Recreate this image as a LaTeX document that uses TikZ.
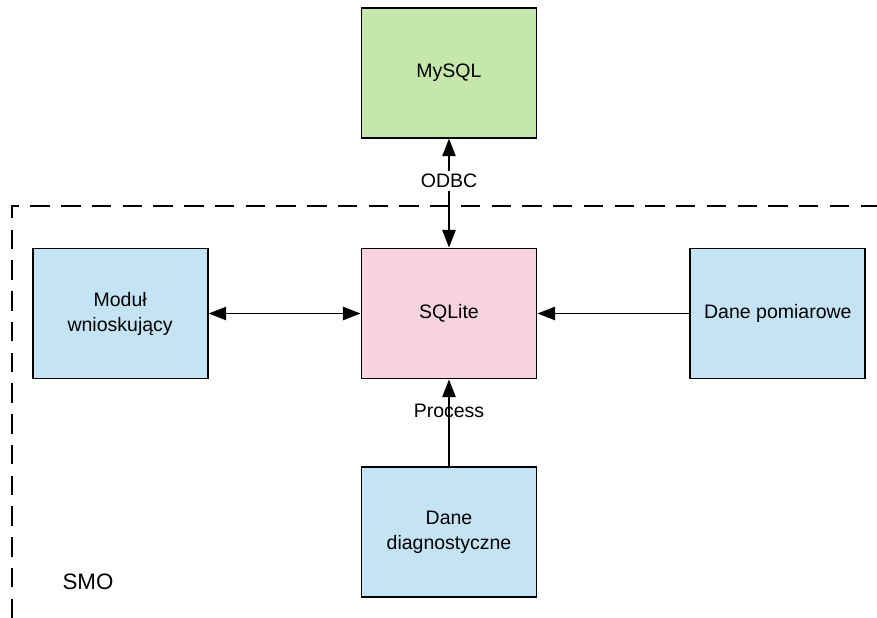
\documentclass[tikz,border=0pt]{standalone}
\usepackage{fontspec}
\setmainfont{Liberation Sans}
\usetikzlibrary{arrows.meta}
\usetikzlibrary{positioning}
\definecolor{mgreen}{RGB}{198, 231, 172}
\definecolor{mblue}{RGB}{196, 228, 246}
\definecolor{mpink}{RGB}{249, 211, 222}
\tikzset{box/.style = {draw, line width=1.1pt, minimum width=3.5cm, minimum height=2.6cm,
                       align=center, font=\fontsize{11.1}{14.2}\selectfont},
         link/.style = {line width=1.1pt, -{Triangle[length=10pt, width=7.5pt]}},
         dlink/.style = {line width=1.1pt, {Triangle[length=10pt, width=7.5pt]}-{Triangle[length=10pt, width=7.5pt]}}}

\begin{document}
\begin{tikzpicture}[x=0.02cm, y=-0.02cm, node distance=2.18cm and 3.04cm]
    \useasboundingbox (0, 0) rectangle (877, 618);
    \draw [line width=1.1pt, dash pattern=on 11pt off 6.5pt] (12, 618) -- (12, 206) -- (877, 206);

    \node [box, fill=mpink] (sqlite) at (449, 313.5) {SQLite};
    \node [box, fill=mgreen, above=of sqlite] (mysql) {MySQL};
    \node [box, fill=mblue, left=of sqlite] (modul) {Moduł\\wnioskujący};
    \node [box, fill=mblue, right=of sqlite] (pomiar) {Dane pomiarowe};
    \node [box, fill=mblue, below=1.74cm of sqlite] (diag) {Dane\\diagnostyczne};
    \node [font=\fontsize{12.7}{15}\selectfont] (smo) at (88, 582) {SMO};

    \draw [dlink] (mysql) -- node [pos=0.39, fill=white, inner sep=2pt, font=\fontsize{11.1}{12}\selectfont] {ODBC} (sqlite);
    \draw [dlink] (modul) -- (sqlite);
    \draw [link] (pomiar) -- (sqlite);
    \draw [link] (diag) -- node [pos=0.64, font=\fontsize{11.1}{12}\selectfont] {Process} (sqlite);
\end{tikzpicture}
\end{document}
